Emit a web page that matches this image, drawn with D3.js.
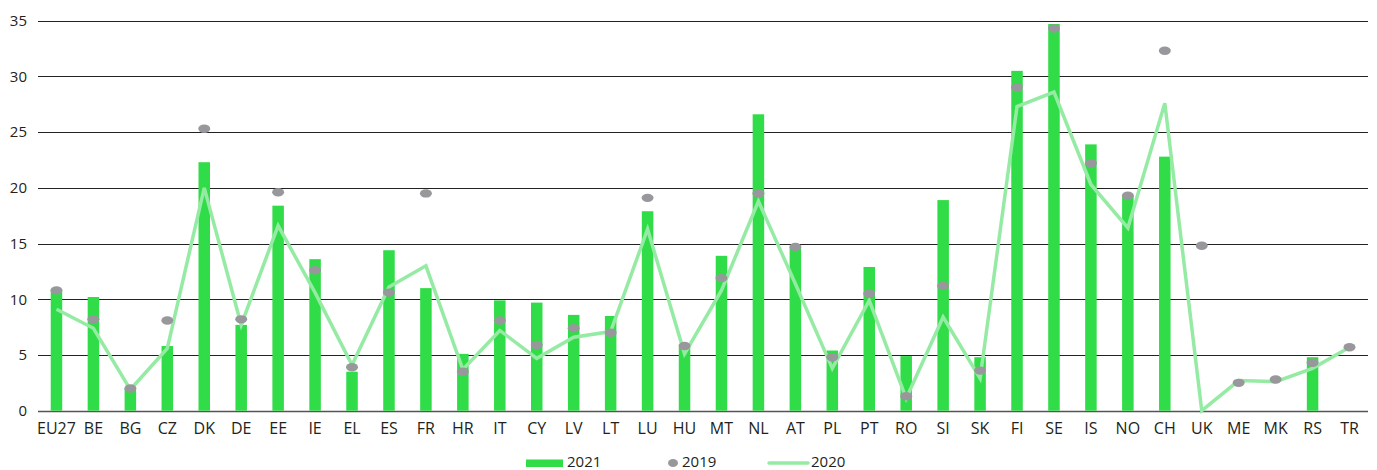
<!DOCTYPE html>
<meta charset="utf-8">
<script src="https://cdn.jsdelivr.net/npm/d3@7"></script>
<style>
body { margin: 0; background: #fff; }
text { font-family: "Open Sans", "Noto Sans", sans-serif; fill: #231f20; }
</style>
<body>
<script>

var countries = ["EU27","BE","BG","CZ","DK","DE","EE","IE","EL","ES","FR","HR","IT","CY","LV","LT","LU","HU","MT","NL","AT","PL","PT","RO","SI","SK","FI","SE","IS","NO","CH","UK","ME","MK","RS","TR"];

var v2021 = [10.8,10.2,2.0,5.8,22.3,7.7,18.4,13.6,3.5,14.4,11.0,5.1,9.9,9.7,8.6,8.5,17.9,5.7,13.9,26.6,14.7,5.4,12.9,4.9,18.9,4.8,30.5,34.7,23.9,19.3,22.8,null,null,null,4.8,null];

var v2019 = [10.8,8.2,2.0,8.1,25.3,8.2,19.6,12.6,3.9,10.6,19.5,3.5,8.1,5.9,7.4,7.0,19.1,5.8,11.9,19.5,14.7,4.8,10.5,1.3,11.2,3.6,29.0,34.3,22.2,19.3,32.3,14.8,2.5,2.8,4.3,5.7];

var v2020 = [9.1,7.4,1.9,5.6,20.0,7.7,16.6,10.6,4.1,11.1,13.0,3.7,7.2,4.7,6.6,7.1,16.3,5.1,10.8,18.8,11.4,3.8,9.9,1.1,8.4,2.9,27.3,28.6,20.3,16.4,27.6,0,2.7,2.6,3.8,5.7];

var yTicks = [0,5,10,15,20,25,30,35];

var width = 1377, height = 470;
var plotLeft = 38, plotRight = 1368, plotTop = 20.7, plotBottom = 410.7;

var svg = d3.select("body").append("svg")
    .attr("width", width)
    .attr("height", height);

var x = d3.scaleBand().domain(countries).range([plotLeft, plotRight]);
var y = d3.scaleLinear().domain([0, 35]).range([plotBottom, plotTop]);

// gridlines
svg.append("g")
  .selectAll("line")
  .data(yTicks)
  .enter().append("line")
    .attr("x1", plotLeft).attr("x2", plotRight)
    .attr("y1", function(d) { return Math.round(y(d)) + 0.5; })
    .attr("y2", function(d) { return Math.round(y(d)) + 0.5; })
    .attr("stroke", function(d) { return d == 0 ? "#555" : "#222"; })
    .attr("stroke-width", function(d) { return d == 0 ? 1.5 : 1.1; });

// y labels
svg.append("g")
  .selectAll("text")
  .data(yTicks)
  .enter().append("text")
    .attr("x", 27)
    .attr("y", function(d) { return y(d); })
    .attr("dy", "0.35em")
    .attr("text-anchor", "end")
    .style("font-size", "15px")
    .text(function(d) { return d; });

// x labels
svg.append("g")
  .selectAll("text")
  .data(countries)
  .enter().append("text")
    .attr("x", function(d) { return x(d) + x.bandwidth() / 2; })
    .attr("y", 434)
    .attr("text-anchor", "middle")
    .style("font-size", "16px")
    .text(function(d) { return d; });

var barW = 11.5;

// bars 2021
svg.append("g")
  .selectAll("rect")
  .data(countries.map(function(c, i) { return {c: c, v: v2021[i]}; }).filter(function(d) { return d.v != null; }))
  .enter().append("rect")
    .attr("x", function(d) { return x(d.c) + x.bandwidth() / 2 - barW / 2; })
    .attr("width", barW)
    .attr("y", function(d) { return y(d.v); })
    .attr("height", function(d) { return y(0) - y(d.v); })
    .attr("fill", "#30dc47");

// line 2020
var line = d3.line()
    .x(function(d, i) { return x(countries[i]) + x.bandwidth() / 2; })
    .y(function(d) { return y(d); });

svg.append("path")
    .datum(v2020)
    .attr("d", line)
    .attr("fill", "none")
    .attr("stroke", "#95eba3")
    .attr("stroke-width", 3.5)
    .attr("stroke-linejoin", "miter");

// dots 2019
svg.append("g")
  .selectAll("ellipse")
  .data(v2019)
  .enter().append("ellipse")
    .attr("cx", function(d, i) { return x(countries[i]) + x.bandwidth() / 2; })
    .attr("cy", function(d) { return y(d); })
    .attr("rx", 6)
    .attr("ry", 4.2)
    .attr("fill", "#98989c");

// legend
var lg = svg.append("g");
lg.append("rect").attr("x", 526).attr("y", 459.5).attr("width", 37).attr("height", 7.5).attr("fill", "#30dc47");
lg.append("text").attr("x", 567).attr("y", 466.5).style("font-size", "15px").text("2021");
lg.append("ellipse").attr("cx", 673).attr("cy", 463).attr("rx", 5).attr("ry", 4).attr("fill", "#98989c");
lg.append("text").attr("x", 682).attr("y", 466.5).style("font-size", "15px").text("2019");
lg.append("line").attr("x1", 769).attr("x2", 808).attr("y1", 463).attr("y2", 463)
    .attr("stroke", "#95eba3").attr("stroke-width", 3.5).attr("stroke-linecap", "round");
lg.append("text").attr("x", 811).attr("y", 466.5).style("font-size", "15px").text("2020");

</script>
</body>
</html>
